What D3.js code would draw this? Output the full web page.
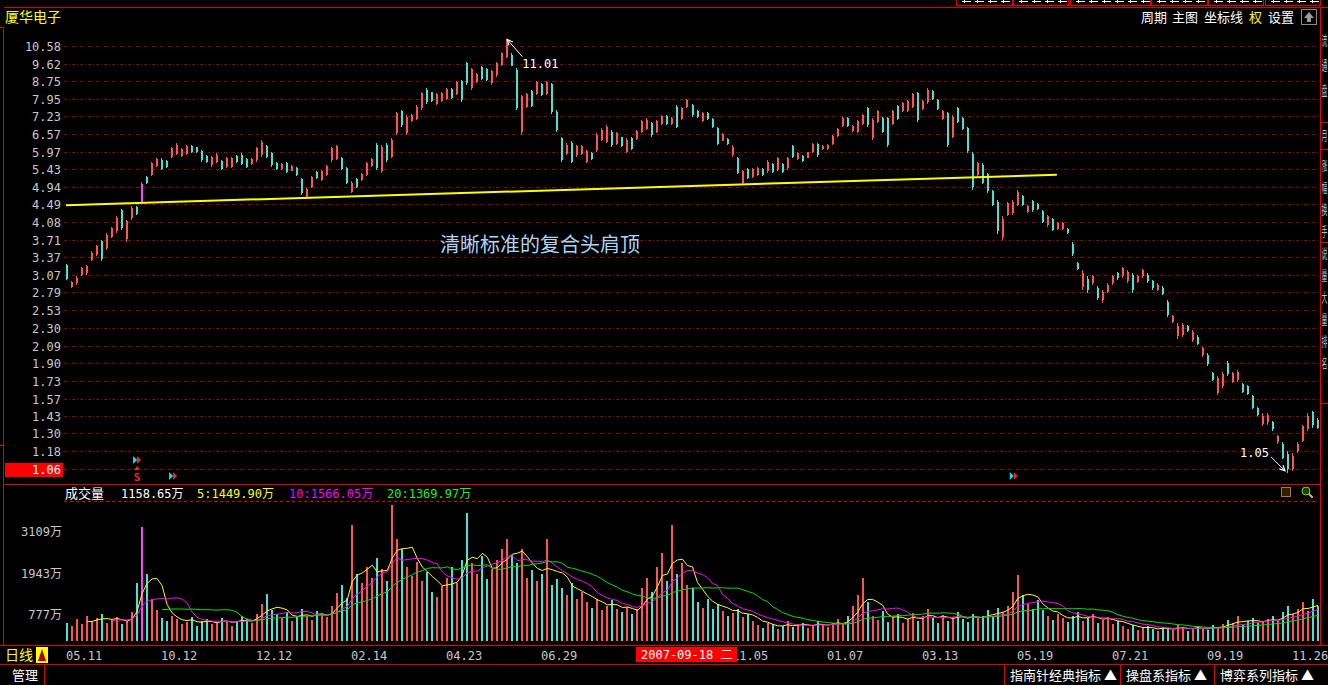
<!DOCTYPE html>
<html><head><meta charset="utf-8">
<script src="https://cdn.jsdelivr.net/npm/d3@7"></script>
<style>
html,body{margin:0;padding:0;background:#000;overflow:hidden;}
svg{display:block;}
</style></head><body>
<svg id="c" width="1328" height="685"></svg>
<script>
// ---------------- DATA ----------------
const stockName = "厦华电子";
const opens = [
3.24,2.87,2.93,3.06,3.10,3.32,3.42,3.68,3.55,3.77,
3.88,4.35,3.72,4.16,4.42,4.55,5.20,5.27,5.54,5.72,
5.68,5.80,5.90,5.84,5.90,6.16,6.11,6.00,5.83,5.55,
5.64,5.68,5.50,5.49,5.83,5.88,5.73,5.58,5.70,5.85,
6.15,5.93,5.63,5.43,5.62,5.39,5.48,5.14,4.68,4.93,
5.34,5.12,5.26,5.70,5.75,5.78,5.47,4.80,5.15,5.11,
5.27,5.54,6.20,5.38,6.20,5.80,6.60,7.43,6.60,7.06,
7.14,7.55,8.36,8.23,7.73,7.86,7.93,8.38,8.18,8.76,
9.63,8.42,8.70,9.42,9.34,8.64,9.03,9.53,9.96,10.10,
9.30,6.65,7.60,8.30,8.18,8.61,8.18,8.60,7.42,6.42,
5.90,6.26,5.85,5.90,5.66,5.94,6.02,6.36,6.30,6.66,
6.24,6.45,5.97,6.44,6.40,6.65,6.76,6.98,6.65,6.94,
7.24,6.93,7.60,7.14,7.59,7.70,7.45,7.06,7.38,7.11,
6.78,6.34,6.39,5.85,5.77,5.04,5.43,5.21,5.26,5.43,
5.37,5.58,5.41,5.58,5.46,6.15,5.74,5.84,5.78,5.95,
6.21,6.05,6.06,6.22,6.51,6.88,7.17,6.68,6.64,6.95,
7.55,6.42,7.00,7.17,7.15,6.95,7.63,7.45,7.46,7.60,
8.20,7.52,7.80,8.30,7.92,7.12,7.35,6.48,7.56,7.17,
6.78,5.90,5.27,5.56,5.28,4.82,4.55,3.76,4.25,4.29,
4.48,4.70,4.30,4.57,4.50,4.33,4.01,4.14,3.93,3.93,
3.93,3.63,3.27,2.87,3.00,2.93,2.86,2.67,2.80,2.94,
3.10,3.04,2.96,3.06,2.95,3.04,3.07,2.96,2.83,2.86,
2.65,2.38,2.20,2.22,2.33,2.15,2.19,1.99,1.99,1.80,
1.62,1.68,1.90,1.72,1.74,1.70,1.68,1.59,1.49,1.37,
1.38,1.38,1.24,1.23,1.16,1.07,1.18,1.25,1.33,1.46,
1.40];
const highs = [
3.26,2.97,3.04,3.20,3.23,3.48,3.61,3.71,3.84,3.98,
4.21,4.39,4.13,4.44,4.44,5.07,5.23,5.66,5.76,5.76,
5.71,6.14,6.25,6.08,6.19,6.19,6.14,6.03,5.86,5.83,
5.92,5.71,5.81,5.81,5.86,5.92,5.76,5.76,6.14,6.36,
6.19,5.97,5.66,5.61,5.66,5.56,5.51,5.18,4.90,5.23,
5.37,5.42,5.56,6.14,6.19,5.81,5.51,5.09,5.18,5.33,
5.66,5.76,6.25,6.19,6.25,6.42,7.41,7.48,7.28,7.34,
7.68,8.27,8.42,8.27,8.20,8.27,8.42,8.42,8.74,8.82,
9.70,9.39,9.14,9.47,9.39,9.30,9.70,10.26,11.01,10.17,
9.39,8.13,8.20,8.35,8.74,8.66,8.74,8.66,7.48,6.48,
6.25,6.31,6.19,6.19,6.03,5.97,6.60,6.78,6.90,6.71,
6.65,6.48,6.42,6.48,6.71,7.09,7.15,7.03,7.09,7.28,
7.28,7.21,7.68,7.61,7.96,7.75,7.48,7.41,7.41,7.15,
6.84,6.60,6.42,6.19,5.81,5.42,5.46,5.46,5.51,5.46,
5.71,5.61,5.81,5.61,5.81,6.19,5.97,5.86,5.97,6.25,
6.25,6.19,6.21,6.54,6.78,7.19,7.21,6.90,7.09,7.34,
7.61,7.15,7.48,7.21,7.21,7.48,7.68,7.82,7.89,8.20,
8.27,7.89,8.42,8.35,7.96,7.48,7.41,7.28,7.61,7.21,
6.84,5.97,5.66,5.61,5.33,4.86,4.60,4.21,4.56,4.60,
4.86,4.73,4.48,4.60,4.52,4.36,4.25,4.17,4.09,4.08,
3.95,3.66,3.29,3.15,3.04,3.07,2.88,2.83,2.93,3.07,
3.12,3.20,3.15,3.10,3.07,3.17,3.10,2.99,2.93,2.88,
2.68,2.47,2.36,2.36,2.34,2.27,2.21,2.08,2.01,1.81,
1.77,1.81,1.92,1.81,1.83,1.71,1.69,1.60,1.50,1.45,
1.45,1.39,1.29,1.24,1.18,1.17,1.24,1.36,1.45,1.47,
1.41];
const lows = [
2.99,2.85,2.91,3.04,3.07,3.30,3.39,3.30,3.51,3.74,
3.84,3.91,3.67,4.13,4.25,4.52,5.02,5.23,5.51,5.41,
5.46,5.76,5.86,5.81,5.86,5.92,5.92,5.66,5.61,5.51,
5.61,5.41,5.46,5.46,5.61,5.56,5.46,5.56,5.66,5.81,
5.76,5.51,5.41,5.41,5.33,5.37,5.23,4.73,4.65,4.90,
5.14,5.09,5.23,5.66,5.71,5.41,5.00,4.77,4.90,5.09,
5.23,5.51,5.41,5.33,5.66,5.76,6.54,6.84,6.54,7.03,
7.09,7.48,7.75,7.82,7.68,7.82,7.89,7.96,8.13,7.82,
8.58,8.35,8.66,8.82,8.74,8.58,8.97,9.47,9.89,9.47,
7.48,6.54,7.55,7.61,8.13,8.06,8.13,7.34,6.65,5.66,
5.86,5.61,5.81,5.86,5.61,5.71,5.97,6.31,6.25,6.14,
6.19,6.14,5.92,6.03,6.36,6.60,6.71,6.48,6.60,6.90,
6.90,6.90,6.78,7.09,7.55,7.22,7.16,7.03,7.09,6.78,
6.19,6.31,6.19,5.81,5.28,5.00,5.14,5.18,5.23,5.23,
5.33,5.33,5.37,5.33,5.42,5.76,5.71,5.66,5.76,5.92,
5.81,6.03,6.04,6.19,6.48,6.84,6.84,6.65,6.60,6.90,
6.84,6.36,6.96,6.60,6.14,6.90,7.09,7.41,7.41,7.55,
7.03,7.48,7.75,7.89,7.48,7.09,6.14,6.42,6.96,6.71,
5.92,4.86,5.23,5.00,4.77,4.44,3.82,3.71,4.21,4.25,
4.44,4.44,4.28,4.32,4.36,4.06,3.98,3.88,3.91,3.91,
3.83,3.40,3.15,2.83,2.78,2.91,2.68,2.64,2.78,2.91,
2.99,3.02,2.93,2.78,2.93,3.02,2.93,2.83,2.81,2.75,
2.44,2.36,2.17,2.19,2.25,2.13,2.10,1.97,1.87,1.73,
1.60,1.66,1.77,1.71,1.72,1.62,1.60,1.48,1.43,1.35,
1.36,1.32,1.23,1.13,1.05,1.06,1.17,1.24,1.32,1.34,
1.33];
const closes = [
3.00,2.95,3.02,3.18,3.21,3.45,3.58,3.34,3.80,3.95,
4.17,3.95,4.10,4.41,4.27,5.02,5.05,5.62,5.73,5.45,
5.49,6.10,6.20,6.05,6.15,5.95,5.95,5.70,5.64,5.80,
5.88,5.44,5.78,5.77,5.64,5.60,5.49,5.74,6.10,6.30,
5.80,5.55,5.44,5.58,5.36,5.53,5.26,4.77,4.87,5.20,
5.17,5.38,5.52,6.10,6.15,5.45,5.04,5.05,4.93,5.30,
5.62,5.73,5.46,6.12,5.70,6.37,7.35,6.90,7.20,7.30,
7.62,8.20,7.80,7.86,8.15,8.22,8.38,8.00,8.69,7.88,
8.65,9.32,9.10,8.87,8.79,9.25,9.64,10.20,10.85,9.52,
7.56,8.05,8.14,7.66,8.69,8.10,8.70,7.42,6.70,5.70,
6.20,5.66,6.15,6.15,5.98,5.74,6.54,6.73,6.84,6.19,
6.60,6.17,6.37,6.07,6.67,7.04,7.10,6.53,7.04,7.24,
6.94,7.18,6.84,7.56,7.92,7.27,7.19,7.37,7.12,6.82,
6.24,6.56,6.22,6.14,5.32,5.37,5.17,5.43,5.48,5.26,
5.66,5.36,5.76,5.36,5.77,5.80,5.94,5.68,5.95,6.21,
5.85,6.17,6.18,6.50,6.75,7.15,6.88,6.87,7.04,7.30,
6.90,7.10,7.43,6.65,6.20,7.43,7.14,7.78,7.85,8.14,
7.10,7.85,8.36,7.93,7.52,7.44,6.20,7.22,7.01,6.76,
5.98,4.93,5.61,5.05,4.82,4.48,3.88,4.15,4.52,4.55,
4.81,4.47,4.46,4.35,4.38,4.09,4.22,3.91,4.07,4.06,
3.85,3.44,3.17,3.10,2.82,3.05,2.71,2.80,2.91,3.05,
3.01,3.18,3.12,2.82,3.05,3.15,2.96,2.86,2.91,2.77,
2.47,2.45,2.33,2.34,2.26,2.25,2.11,2.06,1.89,1.74,
1.75,1.79,1.79,1.80,1.81,1.63,1.61,1.49,1.44,1.43,
1.44,1.33,1.28,1.14,1.07,1.15,1.23,1.35,1.43,1.36,
1.34];
// volume in 万 shares
const volumes = [
520,430,610,480,700,550,640,760,520,590,680,470,560,
820,1650,3230,1900,
1200,880,640,560,720,610,480,530,690,420,560,610,470,520,650,580,430,560,700,610,520,780,
1050,1320,880,
760,640,820,570,690,910,720,600,850,780,690,980,
1350,1580,1220,
3300,
1900,1650,2100,
1800,2350,2050,1700,
3850,
2900,2600,
2100,1850,2250,1700,1950,
1400,1250,1550,
1800,2100,1650,2300,
3630,
2200,1900,2400,1750,2050,2300,
2600,2900,2450,
2200,2600,1800,2000,
1700,1900,2900,1600,1750,
1500,1300,1650,1200,1400,
1100,950,1200,880,1000,1150,900,
820,960,780,900,
1500,1800,1400,
2100,2500,1700,3300,
1900,2200,1600,1500,
1100,950,1200,900,1050,
850,720,800,900,680,760,
560,450,380,520,470,340,420,560,390,480,510,360,440,580,470,390,520,610,480,
700,980,1300,1800,1100,
720,600,850,540,680,760,500,620,800,560,700,900,640,520,750,580,690,820,610,540,780,650,720,880,700,
950,820,1000,
1400,1870,1300,
1050,900,1150,880,
720,600,780,650,540,700,820,580,640,760,520,600,690,480,560,
420,350,460,300,380,420,330,280,400,360,310,450,380,290,340,420,360,300,450,390,
480,600,520,700,450,580,640,500,560,620,
700,560,820,1000,760,900,1100,850,1200,1000];

const yTicks = [10.58,9.62,8.75,7.95,7.23,6.57,5.97,5.43,4.94,4.49,4.08,3.71,3.37,3.07,2.79,2.53,2.30,2.09,1.90,1.73,1.57,1.43,1.30,1.18];
const currentPrice = 1.06;
const volTicks = [3109,1943,777];
const dateLabels = ["05.11","10.12","12.12","02.14","04.23","06.29","11.05","01.07","03.13","05.19","07.21","09.19","11.26"];
const dateIdx =    [0,19,38,57,76,95,133,152,171,190,209,228,245];
const cursorDate = "2007-09-18 二";
const cursorIdx = 114;
const neckIdx = [0,198];
const neckPrice = [4.47,5.27];
const peakIdx = 88, peakPrice = 11.01;
const lowIdx = 244, lowPrice = 1.05;
const signalIdx = [14,21,189];
const legendLabels = ["成交量","1158.65万","5:1449.90万","10:1566.05万","20:1369.97万"];
const maPeriods = [5,10,20];
const headerItems = ["周期","主图","坐标线","权","设置"];
const footerItems = ["指南针经典指标 ▲","操盘系指标 ▲","博弈系列指标 ▲"];
const annotationText = "清晰标准的复合头肩顶";
const sideChars = ["流","通","盘","月","涨","幅","换","手","说","量","大","量","排","名"];

// ---------------- DRAW ----------------
const svg = d3.select('#c');
const N = Math.min(opens.length, highs.length, lows.length, closes.length, volumes.length);
const RED = '#ff5454', CYAN = '#46e2d6', GRID = '#8c0000', FRAME = '#e00000';
const MONO = '"DejaVu Sans Mono","Noto Sans CJK SC",monospace';
const CJK = '"Noto Sans CJK SC","DejaVu Sans",sans-serif';

const x = d3.scaleLinear().domain([0, 250]).range([66, 1317]);
const y = d3.scaleLog().domain([1.18, 10.58]).range([451.3, 46]);
const yv = d3.scaleLinear().domain([0, 3886]).range([641, 504]);

svg.append('rect').attr('width',1328).attr('height',685).attr('fill','#000');

function line(x1,y1,x2,y2,c,w,dash){
  const l = svg.append('line').attr('x1',x1).attr('y1',y1).attr('x2',x2).attr('y2',y2)
    .attr('stroke',c).attr('stroke-width',w||1).attr('shape-rendering','crispEdges');
  if(dash) l.attr('stroke-dasharray',dash);
  return l;
}
function text(t,xx,yy,opt){
  opt = opt||{};
  return svg.append('text').attr('x',xx).attr('y',yy).text(t)
    .attr('fill',opt.fill||'#c8c8c8').attr('font-size',opt.size||12)
    .attr('font-family',opt.font||MONO).attr('text-anchor',opt.anchor||'start');
}

// top tabs (cut off at the window edge) - only the lower strokes of their labels show
const tabs = [[956,1012],[1013,1068],[1070,1150],[1151,1207],[1208,1263],[1265,1320]];
tabs.forEach(t=>{
  svg.append('rect').attr('x',t[0]+0.5).attr('y',-6).attr('width',t[1]-t[0]).attr('height',11.5)
    .attr('fill','none').attr('stroke',FRAME).attr('stroke-width',1);
  for(let k=t[0]+6;k<t[1]-8;k+=13){
    svg.append('rect').attr('x',k).attr('y',1).attr('width',9).attr('height',1).attr('fill','#fff');
    svg.append('rect').attr('x',k+2).attr('y',0).attr('width',1).attr('height',3).attr('fill','#fff');
  }
});

// frame
line(4,7.5,1328,7.5,FRAME,1);
line(0,27.5,3.5,27.5,FRAME,1);
line(3.5,27,3.5,645,FRAME,1);
line(0,445.5,3.5,445.5,FRAME,1);
line(1320.5,7,1320.5,645,FRAME,1);
line(4,484.5,1320,484.5,FRAME,1);
line(0,645.5,1328,645.5,FRAME,1);
line(0,664.5,1328,664.5,FRAME,1);
[122,149,242,403].forEach(v=>line(1321,v+0.5,1328,v+0.5,FRAME,1));

// right side panel text (narrow strip at the window edge, drawn condensed)
sideChars.forEach((ch,k)=>{
  const yy = k<3 ? 45+k*25 : (k===3 ? 140 : 170+(k-4)*22);
  svg.append('text').attr('transform',`translate(1321.5,${yy}) scale(0.45,1)`)
    .attr('x',0).attr('y',0).text(ch).attr('fill','#a8c0d8').attr('font-size',13).attr('font-family',CJK);
});

// header
text(stockName,5,22,{fill:'#ffff00',size:14,font:CJK});
const hx = [1141,1172,1204,1249,1268];
headerItems.forEach((h,k)=>text(h,hx[k],22,{fill:k===3?'#ffff00':'#ffffff',size:13,font:CJK}));
svg.append('rect').attr('x',1301.5).attr('y',9.5).attr('width',15).attr('height',15)
  .attr('fill','none').attr('stroke','#8a8a8a');
svg.append('path').attr('d','M1309,12 L1314,18 L1311,18 L1311,22 L1307,22 L1307,18 L1304,18 Z').attr('fill','#9a9a9a');

// price gridlines & labels
yTicks.forEach(v=>{
  const yy = Math.round(y(v))+0.5;
  line(64,yy,1318,yy,GRID,1,'3,2,1,2');
  text(v.toFixed(2),61,yy+4.5,{fill:'#c8c8c8',size:12,anchor:'end'});
});
{
  const yy = Math.round(y(currentPrice))-1.5;
  line(64,yy,1318,yy,GRID,1,'3,2,1,2');
  svg.append('rect').attr('x',5).attr('y',yy-6.5).attr('width',58).attr('height',14).attr('fill','#ff0000');
  text(currentPrice.toFixed(2),61,yy+4.5,{fill:'#ffffff',size:12,anchor:'end'});
}

// candles
const gC = svg.append('g').attr('shape-rendering','crispEdges');
for(let i=0;i<N;i++){
  const cx = Math.round(x(i));
  const up = closes[i] >= opens[i];
  const col = i===15 ? '#ff40ff' : (up ? RED : CYAN);
  const yh = y(highs[i]), yl = y(lows[i]);
  gC.append('rect').attr('x',cx).attr('y',yh).attr('width',1).attr('height',Math.max(1,yl-yh)).attr('fill',col);
  const yo = y(opens[i]), yc = y(closes[i]);
  gC.append('rect').attr('x',cx).attr('y',Math.min(yo,yc)).attr('width',2)
    .attr('height',Math.max(1,Math.abs(yo-yc))).attr('fill',col);
}

// neckline
svg.append('line').attr('x1',x(neckIdx[0])).attr('y1',y(neckPrice[0]))
  .attr('x2',x(neckIdx[1])).attr('y2',y(neckPrice[1]))
  .attr('stroke','#ffff00').attr('stroke-width',2);

// annotation text
text(annotationText,440,252,{fill:'#a8d6f6',size:20,font:CJK});

// peak / low markers
function arrow(x1,y1,x2,y2){
  svg.append('line').attr('x1',x1).attr('y1',y1).attr('x2',x2).attr('y2',y2).attr('stroke','#ffffff').attr('stroke-width',1);
  const a = Math.atan2(y2-y1,x2-x1), L=6;
  const p1=[x2-L*Math.cos(a-0.45),y2-L*Math.sin(a-0.45)], p2=[x2-L*Math.cos(a+0.45),y2-L*Math.sin(a+0.45)];
  svg.append('path').attr('d',`M${p1}L${x2},${y2}L${p2}`).attr('fill','none').attr('stroke','#fff').attr('stroke-width',1.2);
}
{
  const px = x(peakIdx)+1, py = y(peakPrice)+1;
  arrow(px+15,py+17,px,py);
  text(peakPrice.toFixed(2),px+15,py+28,{fill:'#ffffff',size:12});
  const lx = x(lowIdx)-2, ly = y(lowPrice)-2;
  arrow(lx-14,ly-14,lx,ly);
  text(lowPrice.toFixed(2),lx-16,ly-14,{fill:'#ffffff',size:12,anchor:'end'});
}

// signal markers
function dbl(cx,cy){
  svg.append('path').attr('d',`M${cx-4},${cy-4}L${cx},${cy}L${cx-4},${cy+4}Z`).attr('fill','#00e8f0');
  svg.append('path').attr('d',`M${cx},${cy-4}L${cx+4},${cy}L${cx},${cy+4}Z`).attr('fill','#ff2020');
}
dbl(x(signalIdx[0])+1,460);
svg.append('path').attr('d',`M${x(signalIdx[0])+1},466L${x(signalIdx[0])+4},470L${x(signalIdx[0])-2},470Z`).attr('fill','#ff2020');
text("S",x(signalIdx[0])+1,481,{fill:'#ff2020',size:11,anchor:'middle'}).attr('font-weight','bold');
dbl(x(signalIdx[1])+2,476);
dbl(x(signalIdx[2])+2,476);

// volume legend
const lx = [65,121,197,289,387];
const lc = ['#ffffff','#ffffff','#ffff00','#ff00ff','#22ee22'];
legendLabels.forEach((t,k)=>text(t,lx[k],498,{fill:lc[k],size:k===0?13:12,font:k===0?CJK:MONO}));
line(64,501.5,1318,501.5,'#d00000',1,'3,3');
svg.append('rect').attr('x',1281.5).attr('y',487.5).attr('width',9).attr('height',9).attr('fill','#302000').attr('stroke','#a08020');
svg.append('circle').attr('cx',1306).attr('cy',491).attr('r',4).attr('fill','#005000').attr('stroke','#c0b020');
line(1309,494,1313,498,'#c0b020',2);

// volume axis labels
volTicks.forEach(v=>text(v+"万",62,yv(v)+5,{fill:'#c8c8c8',size:12,anchor:'end'}));

// volume bars
const gV = svg.append('g').attr('shape-rendering','crispEdges');
for(let i=0;i<N;i++){
  const cx = Math.round(x(i));
  const up = closes[i] >= opens[i];
  const col = i===15 ? '#ff40ff' : (up ? RED : CYAN);
  const yt = yv(volumes[i]);
  gV.append('rect').attr('x',cx).attr('y',yt).attr('width',2).attr('height',Math.max(1,yv(0)-yt)).attr('fill',col);
}

// volume moving averages
const maColors = ['#ffff00','#ff00ff','#00e000'];
maPeriods.forEach((p,k)=>{
  const pts = [];
  for(let i=p-1;i<N;i++){
    const m = d3.mean(volumes.slice(i-p+1,i+1));
    pts.push([x(i)+1, yv(m)]);
  }
  svg.append('path').attr('d',d3.line()(pts)).attr('fill','none').attr('stroke',maColors[k]).attr('stroke-width',1);
});

// date axis
text("日线",5,660,{fill:'#ffff00',size:14,font:CJK});
svg.append('rect').attr('x',36).attr('y',647).attr('width',12).attr('height',16).attr('fill','#ffff00');
svg.append('path').attr('d','M42,649 L38,661 L46,661 Z').attr('fill','#b00000');
dateLabels.forEach((d,k)=>text(d,Math.round(x(dateIdx[k])),660,{fill:'#c8c8c8',size:12}));
{
  const bx = Math.round(x(cursorIdx));
  svg.append('rect').attr('x',bx).attr('y',647).attr('width',101).attr('height',15).attr('fill','#ff0000');
  text(cursorDate,bx+5,659,{fill:'#ffffff',size:12});
}

// footer
text("管理",12,680,{fill:'#ffffff',size:13,font:CJK});
line(44.5,665,44.5,685,FRAME,1);
const fx = [1004,1120,1214];
footerItems.forEach((t,k)=>{
  line(fx[k]+0.5,665,fx[k]+0.5,685,FRAME,1);
  text(t,fx[k]+6,680,{fill:'#ffffff',size:13,font:CJK});
});
</script>
</body></html>
